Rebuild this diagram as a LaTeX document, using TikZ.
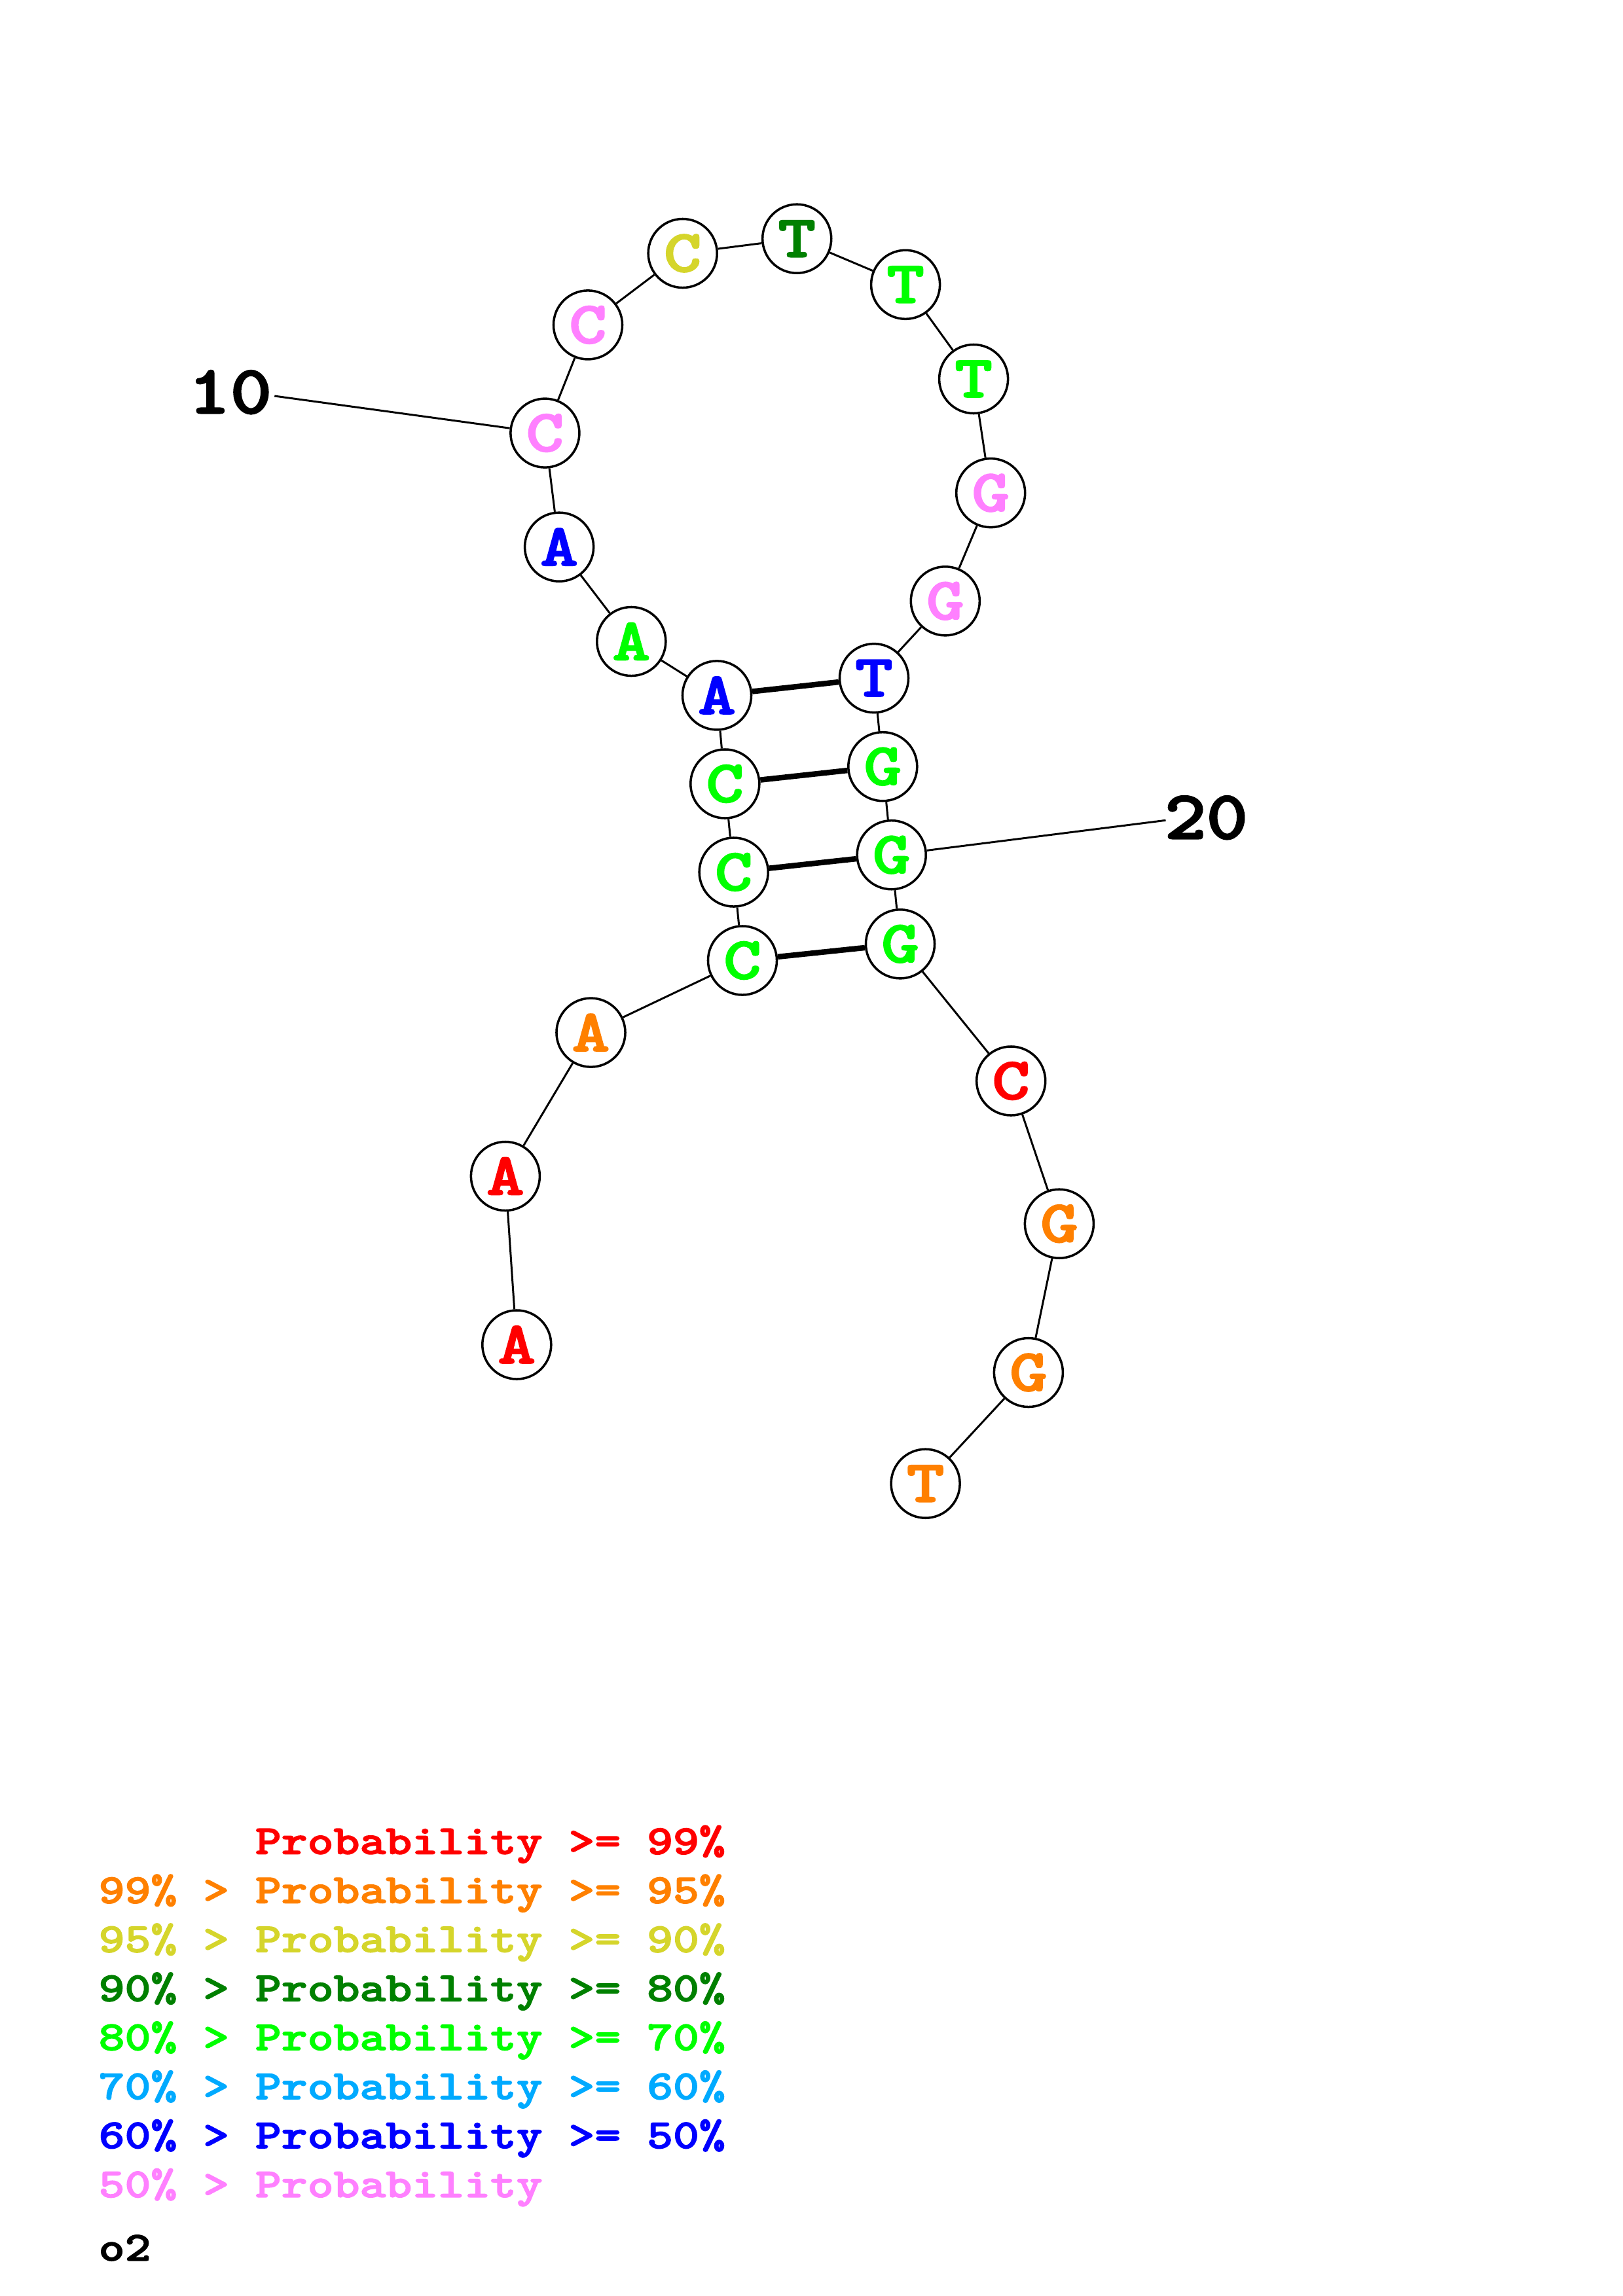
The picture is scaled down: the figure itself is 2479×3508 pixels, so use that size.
\documentclass[tikz,border=0pt]{standalone}
\usepackage{graphicx}
\usepackage{fontspec}
\newfontfamily\lmb{lmmonolt10-bold}[Extension=.otf, FakeBold=2]
\definecolor{cred}{RGB}{255,0,0}
\definecolor{corange}{RGB}{255,128,0}
\definecolor{cyellow}{RGB}{213,213,43}
\definecolor{cdgreen}{RGB}{0,128,0}
\definecolor{cgreen}{RGB}{0,255,0}
\definecolor{clblue}{RGB}{0,170,255}
\definecolor{cblue}{RGB}{0,0,255}
\definecolor{cpink}{RGB}{255,128,255}
\newcommand\ntfont{\fontsize{26}{26}\lmb\selectfont}
\newcommand\lbfont{\fontsize{30}{30}\lmb\selectfont}
\newcommand\lgfont{\fontsize{18}{18}\lmb\selectfont}
\newcommand\sx[1]{\scalebox{1.2}[1]{#1}}
\tikzset{
  nt/.style={circle, draw=black, line width=1pt, fill=white, minimum size=1.05cm, inner sep=0pt, font=\ntfont},
  bb/.style={line width=0.85pt},
  bp/.style={line width=2.4pt},
  lbl/.style={inner sep=0pt, font=\lbfont, text=black},
  lg/.style={anchor=base west, inner sep=0pt, font=\lgfont}
}
\begin{document}
\begin{tikzpicture}[x=0.01cm, y=-0.01cm]
\useasboundingbox (0,0) rectangle (2479,3508);
% nucleotides
\node[nt, text=cred]    (n1)  at (789.3,2054.5) {\sx{A}};
\node[nt, text=cred]    (n2)  at (771.9,1797.0) {\sx{A}};
\node[nt, text=corange] (n3)  at (902.5,1577.6) {\sx{A}};
\node[nt, text=cgreen]  (n4)  at (1134.0,1467.5) {\sx{C}};
\node[nt, text=cgreen]  (n5)  at (1120.7,1332.5) {\sx{C}};
\node[nt, text=cgreen]  (n6)  at (1107.3,1197.5) {\sx{C}};
\node[nt, text=cblue]   (n7)  at (1095.0,1062.4) {\sx{A}};
\node[nt, text=cgreen]  (n8)  at (964.3,980.0) {\sx{A}};
\node[nt, text=cblue]   (n9)  at (854.1,835.7) {\sx{A}};
\node[nt, text=cpink]   (n10) at (832.4,661.6) {\sx{C}};
\node[nt, text=cpink]   (n11) at (898.0,496.4) {\sx{C}};
\node[nt, text=cyellow] (n12) at (1042.7,387.0) {\sx{C}};
\node[nt, text=cdgreen] (n13) at (1217.2,364.7) {\sx{T}};
\node[nt, text=cgreen]  (n14) at (1383.1,434.8) {\sx{T}};
\node[nt, text=cgreen]  (n15) at (1487.1,579.0) {\sx{T}};
\node[nt, text=cpink]   (n16) at (1513.2,753.1) {\sx{G}};
\node[nt, text=cpink]   (n17) at (1443.8,918.3) {\sx{G}};
\node[nt, text=cblue]   (n18) at (1335.0,1036.1) {\sx{T}};
\node[nt, text=cgreen]  (n19) at (1348.3,1171.2) {\sx{G}};
\node[nt, text=cgreen]  (n20) at (1361.7,1306.2) {\sx{G}};
\node[nt, text=cgreen]  (n21) at (1375.0,1442.3) {\sx{G}};
\node[nt, text=cred]    (n22) at (1544.2,1651.5) {\sx{C}};
\node[nt, text=corange] (n23) at (1617.9,1869.7) {\sx{G}};
\node[nt, text=corange] (n24) at (1570.9,2097.0) {\sx{G}};
\node[nt, text=corange] (n25) at (1413.6,2266.7) {\sx{T}};
% backbone
\foreach \a/\b in {1/2,2/3,3/4,4/5,5/6,6/7,7/8,8/9,9/10,10/11,11/12,12/13,13/14,14/15,15/16,16/17,17/18,18/19,19/20,20/21,21/22,22/23,23/24,24/25}
  \draw[bb] (n\a) -- (n\b);
% base pairs
\draw[bp] (n7) -- (n18);
\draw[bp] (n6) -- (n19);
\draw[bp] (n5) -- (n20);
\draw[bp] (n4) -- (n21);
% position labels
\node[lbl] (t10) at (351.6,599.2) {\scalebox{1.15}[1]{10}};
\coordinate (e10) at (419.3,605.0);
\draw[bb] (n10) -- (e10);
\node[lbl] (t20) at (1842.5,1249.2) {\scalebox{1.15}[1]{20}};
\coordinate (e20) at (1780.5,1253.3);
\draw[bb] (n20) -- (e20);
% legend
\node[lg, text=cred]    (g1) at (150,2832.7) {\sx{\hphantom{99\% > }Probability >= 99\%}};
\node[lg, text=corange] (g2) at (150,2907.6) {\sx{99\% > Probability >= 95\%}};
\node[lg, text=cyellow] (g3) at (150,2982.5) {\sx{95\% > Probability >= 90\%}};
\node[lg, text=cdgreen] (g4) at (150,3057.4) {\sx{90\% > Probability >= 80\%}};
\node[lg, text=cgreen]  (g5) at (150,3132.3) {\sx{80\% > Probability >= 70\%}};
\node[lg, text=clblue]  (g6) at (150,3207.2) {\sx{70\% > Probability >= 60\%}};
\node[lg, text=cblue]   (g7) at (150,3282.1) {\sx{60\% > Probability >= 50\%}};
\node[lg, text=cpink]   (g8) at (150,3357.0) {\sx{50\% > Probability}};
\node[lg, text=black]   (o2) at (150,3454.0) {\sx{o2}};
\end{tikzpicture}
\end{document}
